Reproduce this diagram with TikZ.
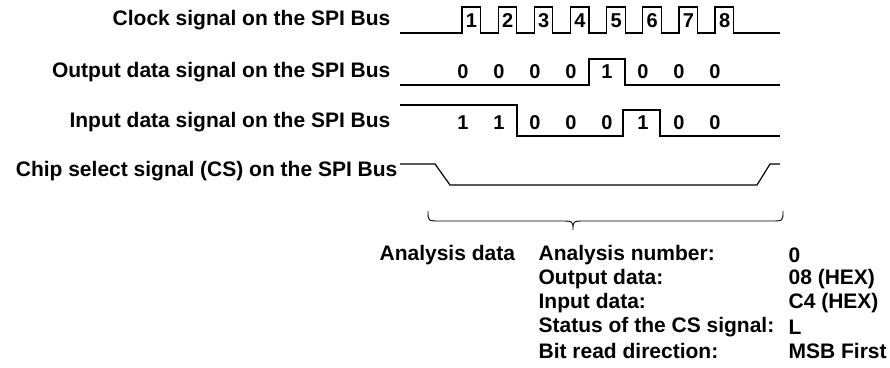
\documentclass[tikz,border=0pt]{standalone}
\usepackage{fontspec}
\setmainfont{Liberation Sans}
\usetikzlibrary{positioning}

\begin{document}
\begin{tikzpicture}[x=1pt,y=-1pt,line width=1.2pt,
    txt/.style={font=\bfseries\fontsize{21}{24}\selectfont,inner sep=0pt},
    sig/.style={txt,anchor=east},
    bit/.style={font=\bfseries\fontsize{20}{22}\selectfont,inner sep=0pt,anchor=center}]
  \useasboundingbox (0,0) rectangle (890,367);
  % signal names
  \node[sig] (clk) at (391,20) {Clock signal on the SPI Bus};
  \node[sig] (mosi) at (391,72) {Output data signal on the SPI Bus};
  \node[sig] (miso) at (391,122) {Input data signal on the SPI Bus};
  \node[sig] (cs) at (398,171) {Chip select signal (CS) on the SPI Bus};
  % clock
  \draw (400,33) foreach \i in {0,...,7} { -- ({462+36.15*\i},33) -- ++(0,-26) -- ++(18.5,0) -- ++(0,26) } -- (780,33);
  \foreach \n in {1,...,8}
    \node[bit] (c\n) at ({471.5+36.15*(\n-1)},21) {\n};
  % output data
  \draw (400,85) -- (589,85) -- (589,59) -- (625,59) -- (625,85) -- (780,85);
  \foreach \b [count=\i from 0] in {0,0,0,0,1,0,0,0}
    \node[bit] (o\i) at ({463+36*\i},72) {\b};
  % input data
  \draw (400,105) -- (517,105) -- (517,136) -- (623,136) -- (623,110) -- (660,110) -- (660,136) -- (780,136);
  \foreach \b [count=\i from 0] in {1,1,0,0,0,1,0,0}
    \node[bit] (i\i) at ({463+36*\i},123) {\b};
  % chip select
  \draw (400,164) -- (435,164) -- (450,185) -- (757,185) -- (770,164) -- (780,164);
  % brace
  \draw[line width=0.9pt] (428,211) .. controls (428,221) .. (440,221) -- (561,221)
    .. controls (573,221) .. (573,230) .. controls (573,221) .. (585,221)
    -- (771,221) .. controls (783,221) .. (783,211);
  % analysis data
  \node[txt,anchor=west] (ad) at (379,255) {Analysis data};
  \node[txt,anchor=west] (k1) at (538,255) {Analysis number:};
  \node[txt,anchor=west] (k2) at (538,279) {Output data:};
  \node[txt,anchor=west] (k3) at (538,303) {Input data:};
  \node[txt,anchor=west] (k4) at (538,327) {Status of the CS signal:};
  \node[txt,anchor=west] (k5) at (538,351) {Bit read direction:};
  \node[txt,anchor=west] (v1) at (788,255) {0};
  \node[txt,anchor=west] (v2) at (788,279) {08 (HEX)};
  \node[txt,anchor=west] (v3) at (788,303) {C4 (HEX)};
  \node[txt,anchor=west] (v4) at (788,327) {L};
  \node[txt,anchor=west] (v5) at (788,351) {MSB First};
\end{tikzpicture}
\end{document}
